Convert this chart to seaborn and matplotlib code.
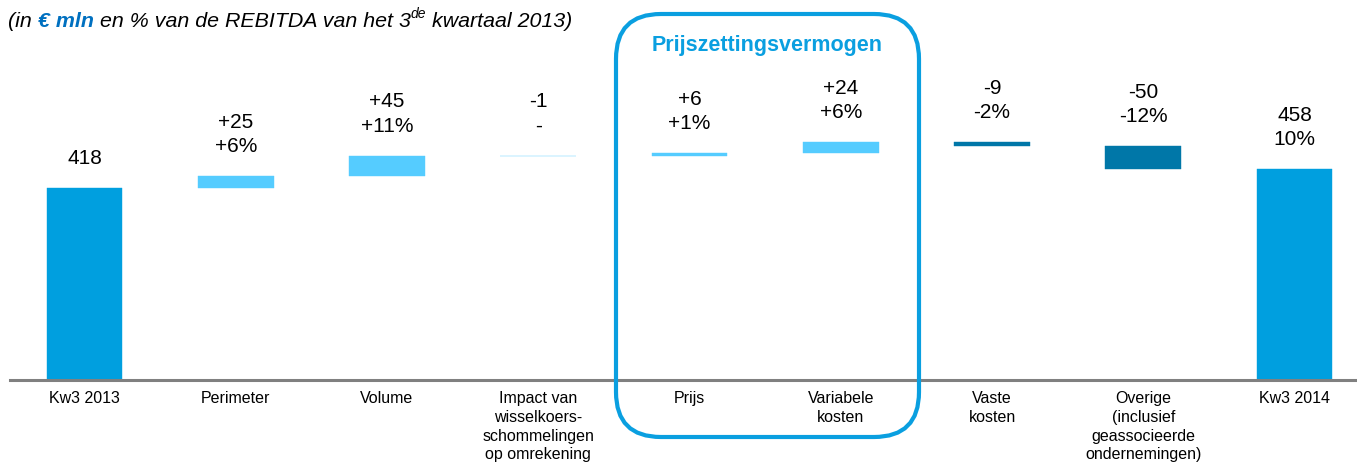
import numpy as np
import pandas as pd
import matplotlib
matplotlib.use("Agg")
import matplotlib.pyplot as plt
import seaborn as sns
from matplotlib.patches import FancyBboxPatch

# ---- data ----
categories = ["Kw3 2013", "Perimeter", "Volume",
              "Impact van\nwisselkoers-\nschommelingen\nop omrekening",
              "Prijs", "Variabele\nkosten", "Vaste\nkosten",
              "Overige\n(inclusief\ngeassocieerde\nondernemingen)", "Kw3 2014"]
start_value = 418
deltas = [25, 45, -1, 6, 24, -9, -50]
end_value = 458
value_labels = ["418", "+25", "+45", "-1", "+6", "+24", "-9", "-50", "458"]
pct_labels = ["", "+6%", "+11%", "-", "+1%", "+6%", "-2%", "-12%", "10%"]

C_TOTAL = "#009FDF"
C_POS = "#55CCFF"
C_NEG = "#0077A8"
C_BOX = "#0A9FE0"

# ---- waterfall geometry from data ----
bases, heights, colors = [0], [start_value], [C_TOTAL]
run = start_value
for d in deltas:
    new = run + d
    bases.append(min(run, new))
    heights.append(abs(d))
    colors.append(C_POS if d > 0 or d == -1 else C_NEG)
    run = new
bases.append(0)
heights.append(end_value)
colors.append(C_TOTAL)
bases = np.array(bases, dtype=float)
heights = np.array(heights, dtype=float)

sns.set_style("white")
plt.rcParams["font.family"] = ["Liberation Sans", "DejaVu Sans"]

W, H = 1357, 463
fig = plt.figure(figsize=(W / 100, H / 100), dpi=100)
ax = fig.add_axes([10 / W, 83 / H, 1 - 10 / W, 380 / H])

df = pd.DataFrame({"cat": categories, "h": heights})
sns.barplot(data=df, x="cat", y="h", bottom=bases, width=0.5, color=C_TOTAL,
            errorbar=None, linewidth=0, ax=ax)
for p, c in zip(ax.patches, colors):
    p.set_facecolor(c)
    p.set_edgecolor(c)
    p.set_linewidth(0.3)

ax.set_xlim(-0.4926, 8.413)
ax.set_ylim(0, 380 / 0.46)
ax.set_yticks([])
ax.set_xlabel("")
ax.set_ylabel("")
for s in ["top", "left", "right"]:
    ax.spines[s].set_visible(False)
ax.spines["bottom"].set_color("#808080")
ax.spines["bottom"].set_linewidth(2.2)
ax.tick_params(axis="x", length=0, pad=8, labelsize=11.5, labelcolor="black")
for t in ax.get_xticklabels():
    t.set_linespacing(1.31)
    t.set_verticalalignment("top")

tops = bases + heights
for i in range(len(categories)):
    txt = value_labels[i] if pct_labels[i] == "" else value_labels[i] + "\n" + pct_labels[i]
    ax.annotate(txt, xy=(i, tops[i]), xytext=(0, 20), textcoords="offset pixels",
                ha="center", va="bottom", fontsize=15, linespacing=1.35, color="black")

# ---- rounded box ----
box = FancyBboxPatch((616 / 100, (H - 437) / 100), 303 / 100, 423 / 100,
                     boxstyle="round,pad=0,rounding_size=0.45",
                     transform=fig.dpi_scale_trans, fill=False,
                     edgecolor=C_BOX, linewidth=3, zorder=5)
fig.add_artist(box)
fig.text(767 / W, 1 - 45 / H, "Prijszettingsvermogen", ha="center", va="center",
         fontsize=15.5, fontweight="bold", color=C_BOX)

# ---- subtitle with mixed styles ----
renderer = fig.canvas.get_renderer()
x = 8
base_y = 1 - 27 / H
pieces = [("(in ", "black", "normal", 15.4, 0),
          ("€ mln", "#0070C0", "bold", 15.4, 0),
          (" en % van de REBITDA van het 3", "black", "normal", 15.4, 0),
          ("de", "black", "normal", 10, 9),
          (" kwartaal 2013)", "black", "normal", 15.4, 0)]
for text, col, wt, fs, dy in pieces:
    t = fig.text(x / W, base_y + dy / H, text, ha="left", va="baseline",
                 fontsize=fs, fontstyle="italic", fontweight=wt, color=col)
    bb = t.get_window_extent(renderer=renderer)
    x += bb.width

fig.savefig("out.png", dpi=100)
